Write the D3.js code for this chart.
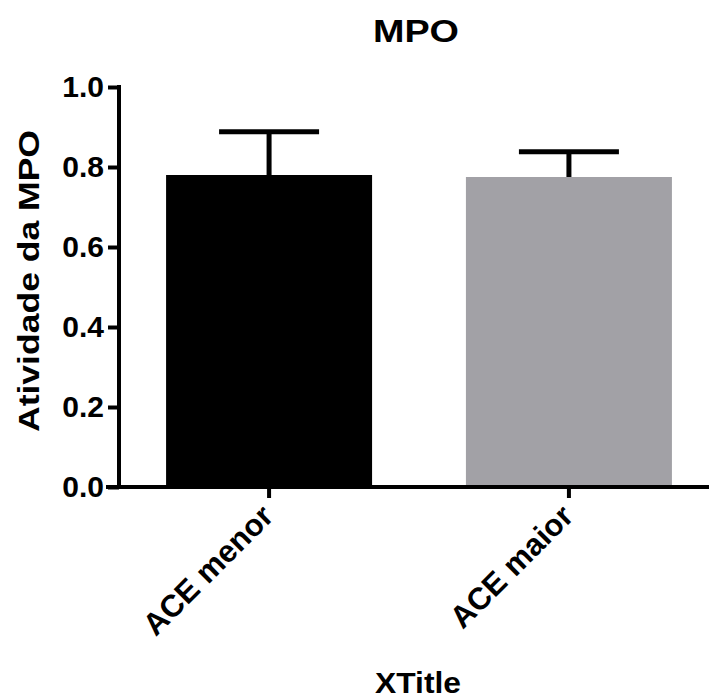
<!DOCTYPE html>
<html>
<head>
<meta charset="utf-8">
<script src="https://cdn.jsdelivr.net/npm/d3@7"></script>
<style>
  html, body { margin: 0; padding: 0; background: #fff; }
  svg { display: block; }
  text { font-family: "Liberation Sans", Arial, sans-serif; font-weight: bold; fill: #000; }
</style>
</head>
<body>
<svg id="chart" width="709" height="699"></svg>
<script>
const categories = ["ACE menor", "ACE maior"];
const means = [0.78, 0.775];
const errors = [0.108, 0.063];
const barColors = ["#000000", "#a2a1a6"];
const yTicks = [0.0, 0.2, 0.4, 0.6, 0.8, 1.0];
const chartTitle = "MPO";
const xTitle = "XTitle";
const yTitle = "Atividade da MPO";

const svg = d3.select("#chart");

const y = d3.scaleLinear().domain([0, 1]).range([487, 87]);
const x = d3.scaleBand().domain(categories).range([119, 719])
  .paddingInner(0.313).paddingOuter(0.157);

// bars
svg.selectAll("rect.bar").data(categories).join("rect")
  .attr("class", "bar")
  .attr("x", d => x(d))
  .attr("width", x.bandwidth())
  .attr("y", (d, i) => y(means[i]))
  .attr("height", (d, i) => y(0) - y(means[i]))
  .attr("fill", (d, i) => barColors[i]);

// error bars (upper only)
const capW = 100;
const eg = svg.append("g").attr("stroke", "#000").attr("stroke-width", 5);
categories.forEach((c, i) => {
  const cx = x(c) + x.bandwidth() / 2;
  eg.append("line").attr("x1", cx).attr("x2", cx)
    .attr("y1", y(means[i])).attr("y2", y(means[i] + errors[i]));
  eg.append("line").attr("x1", cx - capW / 2).attr("x2", cx + capW / 2)
    .attr("y1", y(means[i] + errors[i])).attr("y2", y(means[i] + errors[i]));
});

// y axis
const yAxis = d3.axisLeft(y).tickValues(yTicks).tickFormat(d3.format(".1f"))
  .tickSize(11).tickPadding(4);
const gy = svg.append("g").attr("transform", "translate(119,0)").call(yAxis);
gy.select(".domain").attr("d", "M0," + (y(1) - 2) + "V" + (y(0) + 2)).attr("stroke", "#000").attr("stroke-width", 4);
gy.selectAll(".tick line").attr("stroke", "#000").attr("stroke-width", 4);
gy.selectAll(".tick text").attr("font-size", 30).attr("font-family", "Liberation Sans, Arial, sans-serif")
  .attr("font-weight", "bold").attr("fill", "#000");

// x axis
const xAxis = d3.axisBottom(x).tickSize(11).tickFormat("");
const gx = svg.append("g").attr("transform", "translate(0,487)").call(xAxis);
gx.select(".domain").attr("d", "M106,0H709").attr("stroke", "#000").attr("stroke-width", 4);
gx.selectAll(".tick line").attr("stroke", "#000").attr("stroke-width", 4);
gx.selectAll(".tick").append("text")
  .attr("transform", "translate(6,31) rotate(-45)")
  .attr("text-anchor", "end")
  .attr("font-size", 31)
  .text(d => d);

// titles
svg.append("text").attr("x", 416).attr("y", 42).attr("text-anchor", "middle")
  .attr("font-size", 31).attr("textLength", 86).attr("lengthAdjust", "spacingAndGlyphs").text(chartTitle);
svg.append("text").attr("x", 418).attr("y", 693).attr("text-anchor", "middle")
  .attr("font-size", 29).attr("textLength", 86).attr("lengthAdjust", "spacingAndGlyphs").text(xTitle);
svg.append("text").attr("transform", "translate(39,281) rotate(-90)").attr("text-anchor", "middle")
  .attr("font-size", 30).attr("textLength", 302).attr("lengthAdjust", "spacingAndGlyphs").text(yTitle);
</script>
</body>
</html>
